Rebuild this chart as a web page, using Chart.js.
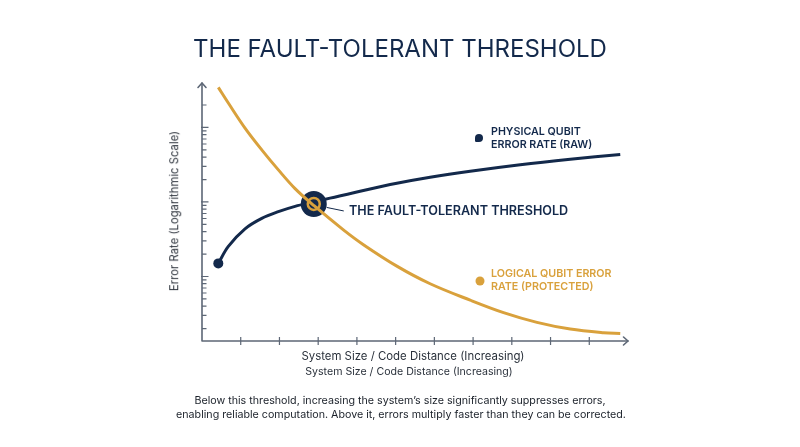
<!DOCTYPE html>
<html><head><meta charset="utf-8">
<script src="https://cdn.jsdelivr.net/npm/chart.js@4/dist/chart.umd.min.js"></script>
<style>
html,body{margin:0;padding:0;background:#fff;}
#wrap{position:relative;width:800px;height:447px;overflow:hidden;font-family:Inter,"Noto Sans",sans-serif;}
canvas{position:absolute;left:0;top:0;}
.t{position:absolute;white-space:nowrap;line-height:1.2;}
.c{transform:translate(-50%,-50%);}
.l{transform:translateY(-50%);}
.dot{position:absolute;border-radius:50%;transform:translate(-50%,-50%);}
</style></head><body>
<div id="wrap">
<canvas id="c" width="800" height="447"></canvas>
<div class="t c" style="left:400px;top:49px;font-size:24px;color:#13294b;">THE FAULT-TOLERANT THRESHOLD</div>
<div class="t" style="left:175px;top:211px;font-size:11.3px;color:#2f353e;transform:translate(-50%,-50%) rotate(-90deg);">Error Rate (Logarithmic Scale)</div>
<div class="t c" style="left:413px;top:357px;font-size:11.4px;color:#2b323c;">System Size / Code Distance (Increasing)</div>
<div class="t c" style="left:409px;top:372px;font-size:10.6px;color:#2b323c;">System Size / Code Distance (Increasing)</div>
<div class="t c" style="left:400px;top:401px;font-size:10.7px;color:#1a2029;">Below this threshold, increasing the system’s size significantly suppresses errors,</div>
<div class="t c" style="left:401px;top:415px;font-size:10.7px;color:#1a2029;">enabling reliable computation. Above it, errors multiply faster than they can be corrected.</div>
<div class="t l" style="left:349px;top:211px;font-size:12.6px;font-weight:600;color:#13294b;">THE FAULT-TOLERANT THRESHOLD</div>
<div class="dot" style="left:478.5px;top:138px;width:8px;height:8px;background:#13294b;border-radius:50% 50% 50% 15%;"></div>
<div class="t l" style="left:491px;top:132px;font-size:10.7px;font-weight:600;color:#13294b;">PHYSICAL QUBIT</div>
<div class="t l" style="left:491px;top:145px;font-size:10.7px;font-weight:600;color:#13294b;">ERROR RATE (RAW)</div>
<div class="dot" style="left:479.5px;top:280.5px;width:9px;height:9px;background:#d9a13c;"></div>
<div class="t l" style="left:491px;top:274px;font-size:10.7px;font-weight:600;color:#d9a13c;">LOGICAL QUBIT ERROR</div>
<div class="t l" style="left:491px;top:286.5px;font-size:10.7px;font-weight:600;color:#d9a13c;">RATE (PROTECTED)</div>
</div>
<script>
// ---- data ----
const physicalX = [0.421,0.680,1.111,1.543,1.972,2.403,2.886,3.307,4.168,5.031,5.891,6.925,8.217,9.509,10.80];
const physicalRate = [1.498e-3,2.536e-3,4.36e-3,6.02e-3,7.41e-3,8.73e-3,1.0e-2,1.125e-2,1.428e-2,1.779e-2,2.142e-2,2.58e-2,3.155e-2,3.74e-2,4.34e-2];
const logicalX = [0.421,0.680,1.111,1.543,1.972,2.403,2.886,3.651,4.168,5.031,5.891,6.925,7.786,8.649,9.509,10.37,10.80];
const logicalRate = [0.3446,0.2126,0.0980,0.0500,0.02694,0.01510,8.97e-3,4.227e-3,2.673e-3,1.378e-3,7.99e-4,4.81e-4,3.274e-4,2.424e-4,1.970e-4,1.757e-4,1.714e-4];
const thresholdX = [2.886];
const thresholdRate = [9.40e-3];
const xTicks = [1,2,3,4,5,6,7,8,9,10];
const yMajorTicks = [1e-3,1e-2,1e-1];
const yMinorTicks = [2e-4,3e-4,4e-4,5e-4,6e-4,7e-4,8e-4,9e-4,2e-3,3e-3,4e-3,5e-3,6e-3,7e-3,8e-3,9e-3,2e-2,3e-2,4e-2,5e-2,6e-2,7e-2,8e-2,9e-2,2e-1];
const xRange = [0, 11];
const yRange = [1.362e-4, 0.3949];

const NAVY = '#13294b', GOLD = '#d9a13c', AXIS = '#5d6776';
const pts = (xs, ys) => xs.map((v, i) => ({x: v, y: ys[i]}));

const axesPlugin = {
  id: 'axes',
  beforeDatasetsDraw(chart) {
    const {ctx, scales: {x, y}} = chart;
    const x0 = x.getPixelForValue(xRange[0]), y0 = y.getPixelForValue(yRange[0]);
    const x1 = x.getPixelForValue(xRange[1]), y1 = y.getPixelForValue(yRange[1]);
    ctx.save();
    ctx.strokeStyle = AXIS; ctx.lineWidth = 1.6; ctx.lineCap = 'round'; ctx.lineJoin = 'round';
    ctx.beginPath();
    ctx.moveTo(x0, y1); ctx.lineTo(x0, y0); ctx.lineTo(x1, y0);
    ctx.stroke();
    ctx.beginPath();
    ctx.moveTo(x0 - 4, y1 + 4.5); ctx.lineTo(x0, y1); ctx.lineTo(x0 + 4, y1 + 4.5);
    ctx.moveTo(x1 - 4.5, y0 - 4); ctx.lineTo(x1, y0); ctx.lineTo(x1 - 4.5, y0 + 4);
    ctx.stroke();
    ctx.lineWidth = 1.2; ctx.lineCap = 'butt';
    ctx.beginPath();
    xTicks.forEach(v => { const p = x.getPixelForValue(v); ctx.moveTo(p, y0 - 4); ctx.lineTo(p, y0 + 4); });
    yMajorTicks.forEach(v => { const p = y.getPixelForValue(v); ctx.moveTo(x0 - 1, p); ctx.lineTo(x0 + 6.5, p); });
    yMinorTicks.forEach(v => { const p = y.getPixelForValue(v); ctx.moveTo(x0, p); ctx.lineTo(x0 + 4.5, p); });
    ctx.stroke();
    const tx = x.getPixelForValue(thresholdX[0]), ty = y.getPixelForValue(thresholdRate[0]);
    ctx.strokeStyle = NAVY; ctx.lineWidth = 1;
    ctx.beginPath(); ctx.moveTo(tx + 13, ty + 3.5); ctx.lineTo(tx + 30, ty + 7); ctx.stroke();
    ctx.restore();
  }
};

new Chart(document.getElementById('c'), {
  type: 'line',
  data: {
    datasets: [
      {label: 'Logical qubit error rate (protected)', data: pts(logicalX, logicalRate), borderColor: GOLD, borderWidth: 3,
       pointRadius: 0, tension: 0.35, fill: false, order: 0},
      {label: 'ring', data: pts(thresholdX, thresholdRate), showLine: false, pointRadius: 6, pointBackgroundColor: NAVY,
       pointBorderColor: GOLD, pointBorderWidth: 2.5, order: 1},
      {label: 'Threshold', data: pts(thresholdX, thresholdRate), showLine: false, pointRadius: 13, pointBackgroundColor: NAVY,
       pointBorderWidth: 0, order: 2},
      {label: 'Physical qubit error rate (raw)', data: pts(physicalX, physicalRate), borderColor: NAVY, borderWidth: 3,
       pointRadius: physicalX.map((v, i) => i === 0 ? 5 : 0), pointBackgroundColor: NAVY, pointBorderWidth: 0,
       tension: 0.35, fill: false, order: 3}
    ]
  },
  options: {
    responsive: false, animation: false, events: [],
    layout: {padding: {left: 202, right: 172, top: 83, bottom: 106}},
    plugins: {legend: {display: false}, tooltip: {enabled: false}, title: {display: false}},
    scales: {
      x: {type: 'linear', min: xRange[0], max: xRange[1], display: false},
      y: {type: 'logarithmic', min: yRange[0], max: yRange[1], display: false}
    }
  },
  plugins: [axesPlugin]
});
</script>
</body></html>
